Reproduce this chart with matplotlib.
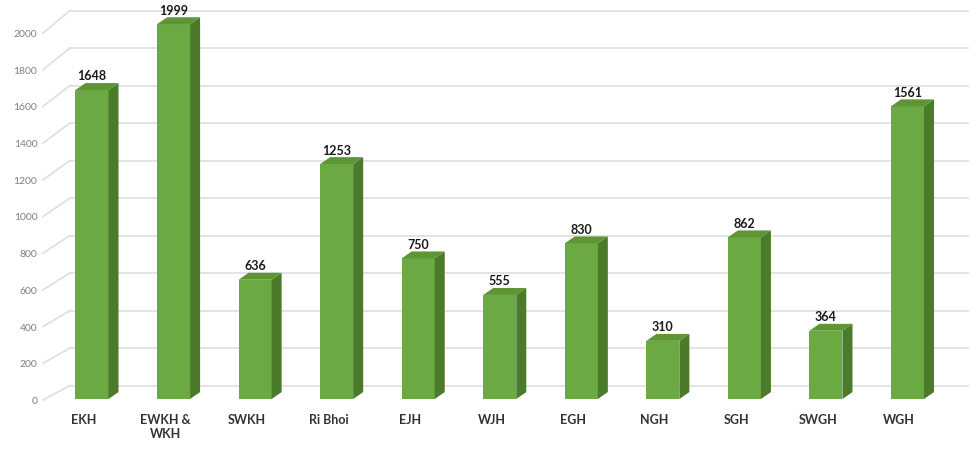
import matplotlib.pyplot as plt
from matplotlib.patches import Polygon

# District-wise counts
districts = ["EKH", "EWKH &\nWKH", "SWKH", "Ri Bhoi", "EJH", "WJH", "EGH", "NGH", "SGH", "SWGH", "WGH"]
counts = [1648, 1999, 636, 1253, 750, 555, 830, 310, 862, 364, 1561]
yticks = [0, 200, 400, 600, 800, 1000, 1200, 1400, 1600, 1800, 2000]

# pseudo-3D look
bar_w = 0.405
depth_dx, depth_dy = 0.123, 37          # bar depth offset (data units)
wall_left, wall_right = -0.27, 10.74    # back wall extent
wall_shift = 72                         # back wall sits a bit higher
side_front_x = -0.60                    # front edge of the left side wall

front_col = "#6BAA42"
side_col = "#4B7A2B"
top_col = "#5E9636"
grid_col = "#E0E0E0"

fig = plt.figure(figsize=(9.79, 4.5), dpi=100)
ax = fig.add_axes([0, 0, 1, 1])
ax.set_xlim(-1.128, 10.877)
ax.set_ylim(-272, 2128)
ax.axis("off")

# gridlines: slanted on the side wall, flat on the back wall
for v in yticks:
    y_front = -5 + v * 0.9785
    y_back = v + wall_shift
    ax.plot([side_front_x, wall_left], [y_front, y_back], color=grid_col, lw=1.3, zorder=1)
    ax.plot([wall_left, wall_right], [y_back, y_back], color=grid_col, lw=1.3, zorder=1)
    ax.text(side_front_x - 0.07, y_front - 8, str(v), ha="right", va="center",
            fontsize=7.5, color="#808080", family="Lato")

for i, v in enumerate(counts):
    x0, x1 = i - bar_w / 2, i + bar_w / 2
    ax.bar(i, v, width=bar_w, color=front_col, edgecolor="none", zorder=3)
    side = Polygon([(x1, 0), (x1 + depth_dx, depth_dy), (x1 + depth_dx, v + depth_dy), (x1, v)],
                   closed=True, facecolor=side_col, edgecolor="none", zorder=3)
    top = Polygon([(x0, v), (x0 + depth_dx, v + depth_dy), (x1 + depth_dx, v + depth_dy), (x1, v)],
                  closed=True, facecolor=top_col, edgecolor="none", zorder=3)
    ax.add_patch(side)
    ax.add_patch(top)
    ax.text(i, v + depth_dy + 3, str(v), ha="center", va="bottom",
            fontsize=9, fontweight="bold", color="#1A1A1A", family="Lato", zorder=4)
    ax.text(i - 0.1, -78, districts[i], ha="center", va="top", linespacing=1.2,
            fontsize=9, fontweight="bold", color="#333333", family="Lato")

fig.savefig("out.png", dpi=100)
